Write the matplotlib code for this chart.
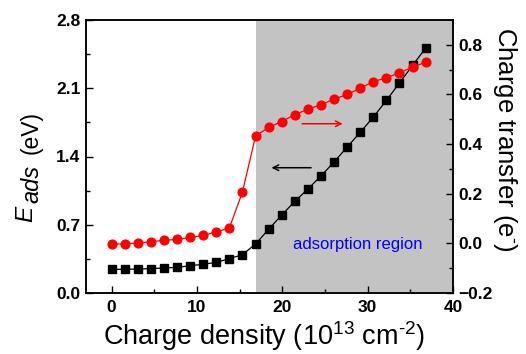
import matplotlib.pyplot as plt

plt.rcParams['font.family'] = ['Liberation Sans', 'DejaVu Sans']
plt.rcParams['mathtext.fontset'] = 'custom'
plt.rcParams['mathtext.rm'] = 'Liberation Sans'
plt.rcParams['mathtext.it'] = 'Liberation Sans:italic'

# charge density (10^13 cm^-2)
density = [0.0, 1.53, 3.07, 4.6, 6.13, 7.67, 9.2, 10.73, 12.27, 13.8, 15.33, 16.87,
           18.4, 19.93, 21.47, 23.0, 24.53, 26.07, 27.6, 29.13, 30.67, 32.2, 33.73,
           35.27, 36.8]
# adsorption energy (eV), left axis
e_ads = [0.243, 0.243, 0.246, 0.25, 0.256, 0.263, 0.28, 0.294, 0.315, 0.352, 0.393,
         0.503, 0.653, 0.80, 0.94, 1.067, 1.20, 1.344, 1.497, 1.648, 1.805, 1.976,
         2.154, 2.335, 2.513]
# charge transfer (e-), right axis
charge = [-0.004, -0.001, 0.001, 0.007, 0.012, 0.016, 0.024, 0.032, 0.046, 0.062,
          0.207, 0.433, 0.467, 0.491, 0.519, 0.540, 0.559, 0.581, 0.600, 0.625,
          0.652, 0.667, 0.688, 0.710, 0.730]

region_start = 16.9

W, H = 526, 354
fig = plt.figure(figsize=(W / 100, H / 100), dpi=100)
ax = fig.add_axes([86 / W, 1 - 293 / H, 367 / W, 273 / H])
ax2 = ax.twinx()

ax.axvspan(region_start, 40, color='#c3c3c3', lw=0, zorder=0)
ax.plot(density, e_ads, color='black', lw=0.9, marker='s', ms=5.3, zorder=3)
ax2.plot(density, charge, color='red', lw=0.9, marker='o', ms=6.3, zorder=3)

ax.set_xlim(-3, 40)
ax.set_ylim(0, 2.8)
ax2.set_ylim(-0.2, 0.9)
ax.set_xticks([0, 10, 20, 30, 40])
ax.set_xticks([5, 15, 25, 35], minor=True)
ax.set_yticks([0, 0.7, 1.4, 2.1, 2.8])
ax.set_yticks([0.35, 1.05, 1.75, 2.45], minor=True)
ax2.set_yticks([-0.2, 0.0, 0.2, 0.4, 0.6, 0.8])
ax2.set_yticks([-0.1, 0.1, 0.3, 0.5, 0.7], minor=True)

for a in (ax, ax2):
    a.tick_params(which='major', direction='in', length=5, width=1, labelsize=12.5)
    a.tick_params(which='minor', direction='in', length=3, width=1)
    for s in a.spines.values():
        s.set_linewidth(1.1)
ax.tick_params(axis='x', pad=5)
ax.tick_params(axis='y', pad=4)
ax2.tick_params(axis='y', pad=4)
for lbl in ax.get_xticklabels() + ax.get_yticklabels() + ax2.get_yticklabels():
    lbl.set_fontweight('bold')

# axis titles placed by hand
fig.text(264 / W, 1 - 345 / H, r'Charge density (10$^{13}$ cm$^{\text{-2}}$)', fontsize=19.5,
         ha='center', va='baseline')
kw = dict(rotation=90, rotation_mode='anchor', ha='left', va='baseline')
fig.text(32 / W, 1 - 222 / H, 'E', fontsize=17.5, style='italic', **kw)
fig.text(38 / W, 1 - 203 / H, 'ads', fontsize=17, style='italic', **kw)
fig.text(38 / W, 1 - 154 / H, '(eV)', fontsize=16.5, **kw)
fig.text(498 / W, 1 - 27 / H, r'Charge transfer (e$^{\text{-}}$)', fontsize=18.5,
         rotation=270, rotation_mode='anchor', ha='left', va='baseline')

ax.text(28.8, 0.5, 'adsorption region', color='blue', fontsize=12,
        ha='center', va='center', zorder=4)
ax.annotate('', xy=(27.4, 1.736), xytext=(22.0, 1.736),
            arrowprops=dict(arrowstyle='->', color='red', lw=1.1), zorder=4)
ax.annotate('', xy=(18.4, 1.285), xytext=(23.7, 1.285),
            arrowprops=dict(arrowstyle='->', color='black', lw=1.1), zorder=4)

fig.savefig('out.png', dpi=100)
